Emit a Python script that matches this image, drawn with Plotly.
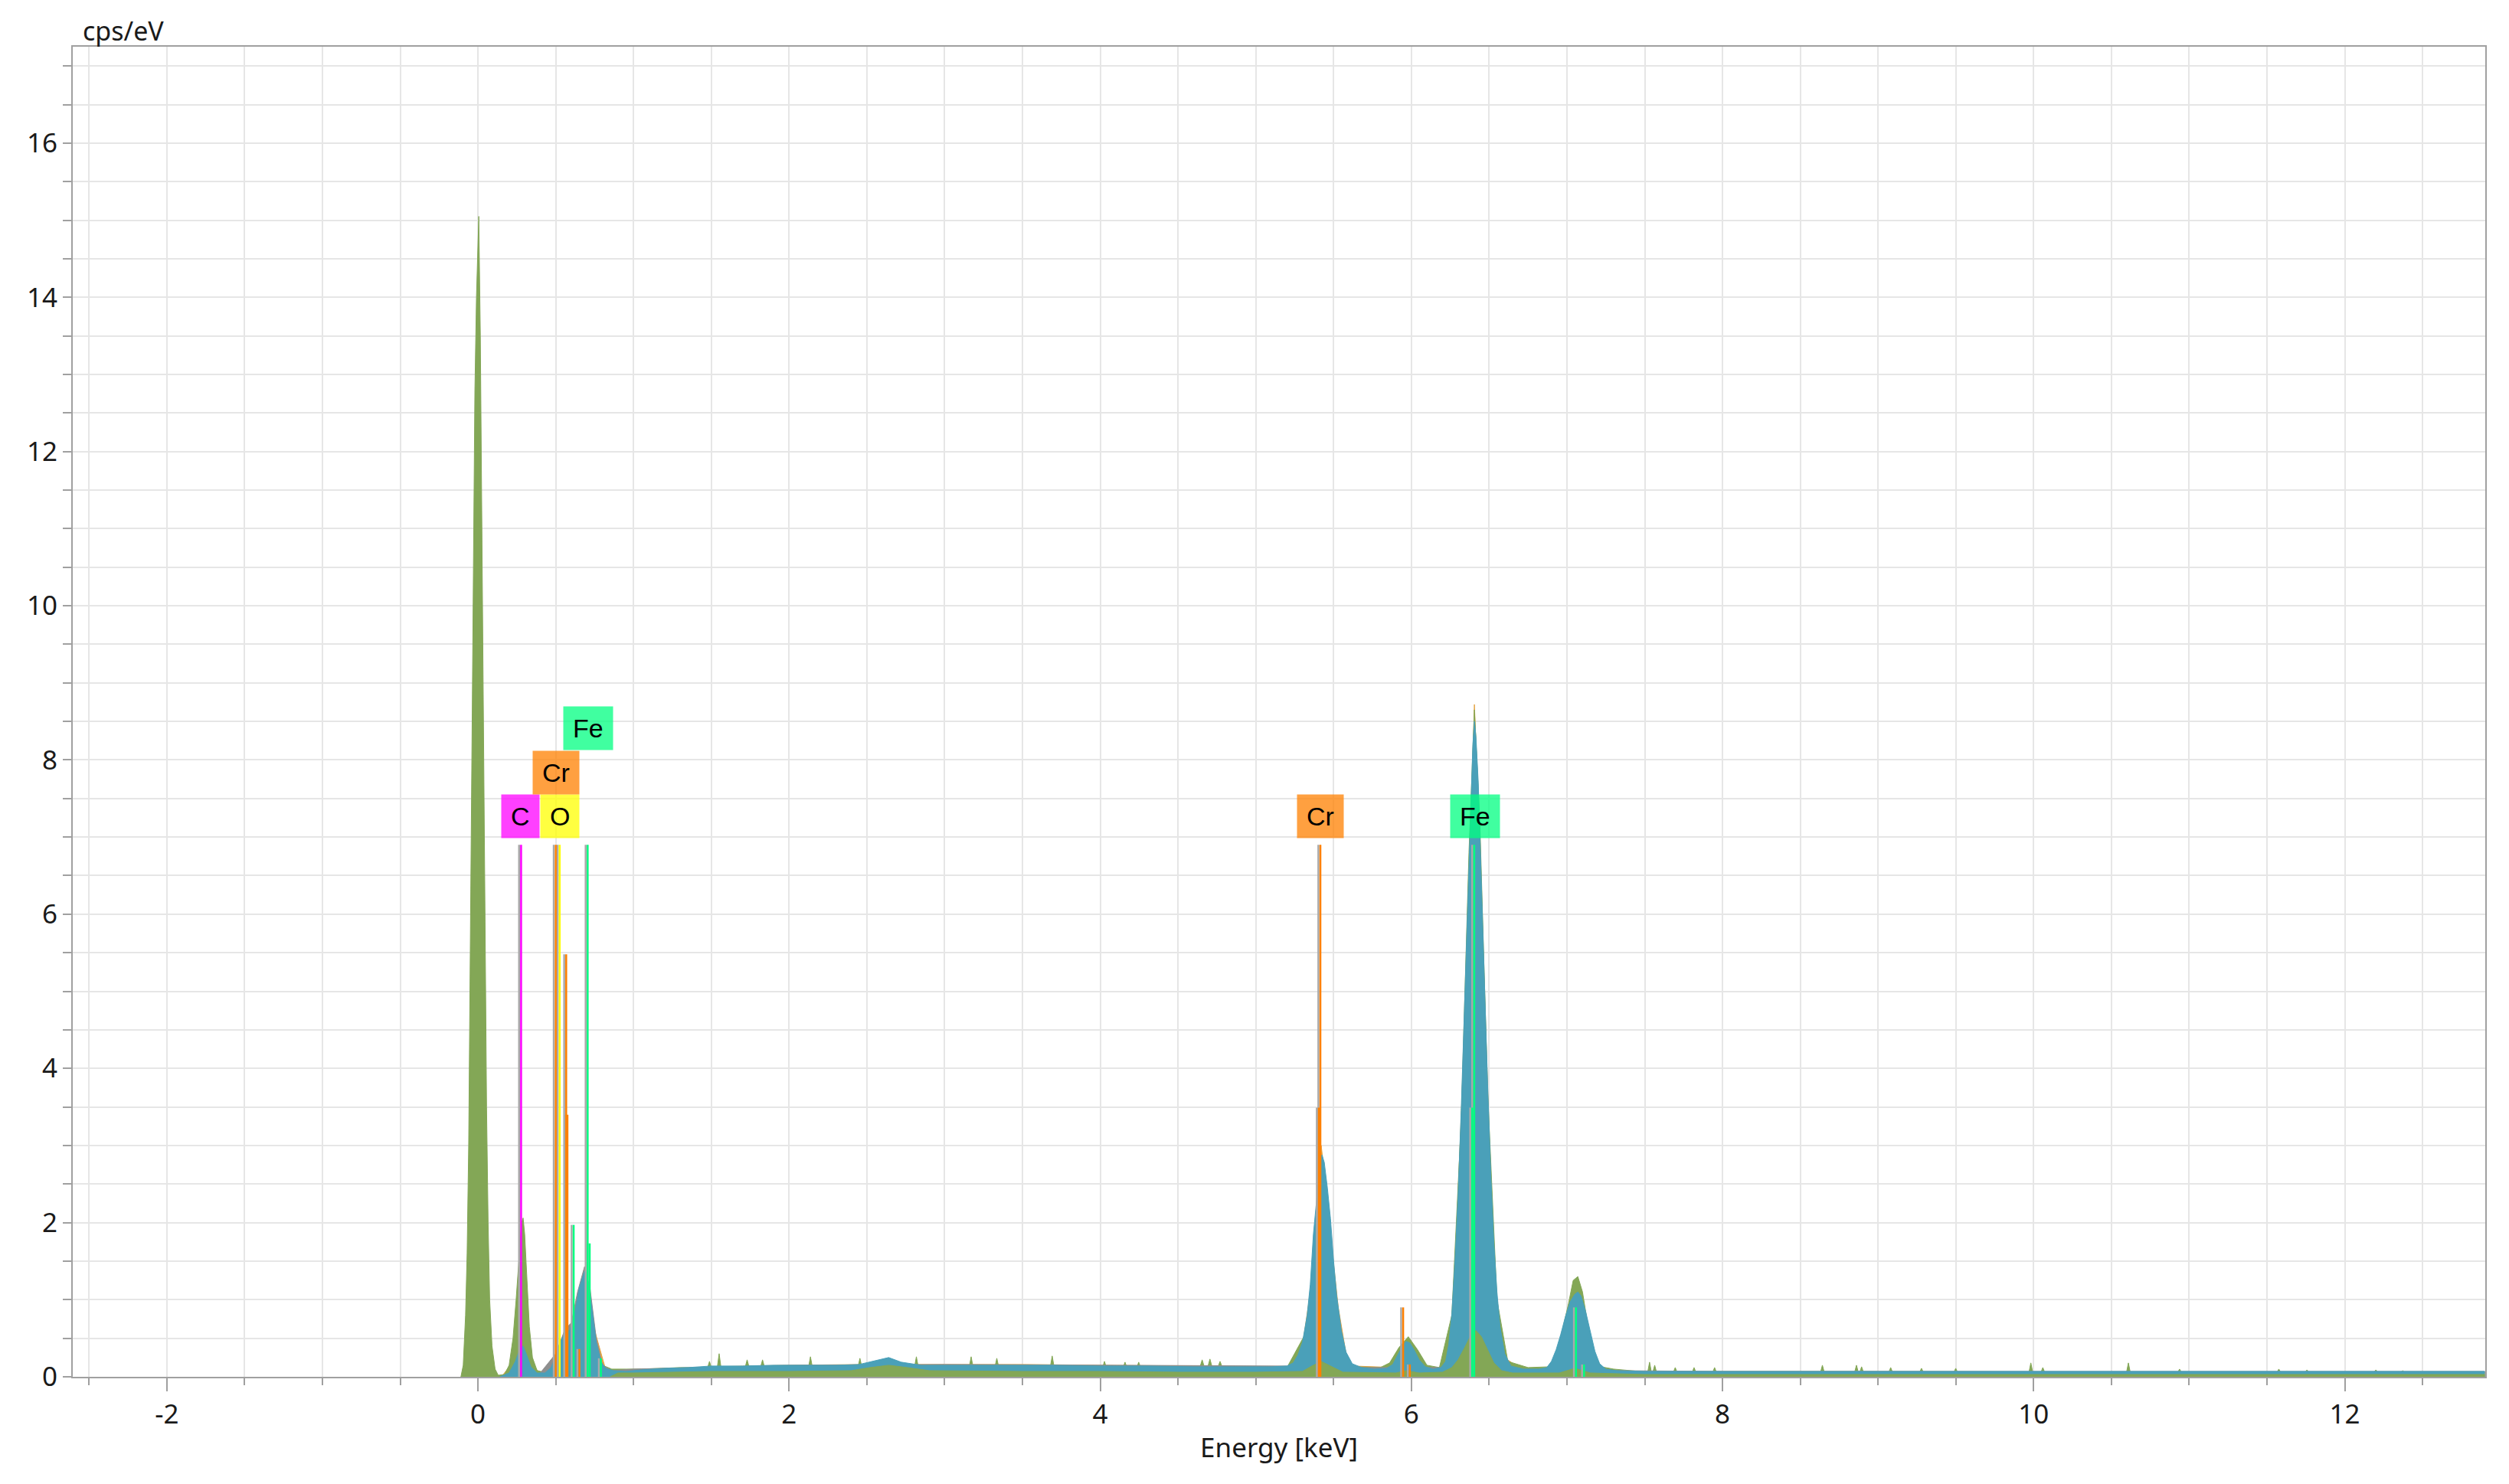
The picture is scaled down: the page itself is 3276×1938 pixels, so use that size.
import plotly.graph_objects as go

# ---------------- spectra (energy keV, counts cps/eV) ----------------
ORANGE_E = [0.15, 0.25, 0.285, 0.32, 0.40, 0.50, 0.56, 0.62, 0.685, 0.75, 0.82, 0.90,
            1.0, 1.5, 2.0, 2.5, 3.0, 3.5, 4.0, 4.5, 5.0, 5.25,
            5.30, 5.35, 5.39, 5.42, 5.45, 5.49, 5.53, 5.58, 5.62,
            5.9, 5.965, 6.03, 6.2, 6.24, 6.26, 6.28, 6.34, 6.38, 6.405, 6.43, 6.47,
            6.49, 6.51, 6.53, 6.55, 6.57, 6.6, 6.7,
            6.95, 7.0, 7.06, 7.12, 7.2, 7.5, 9.0, 11.0, 12.9]
ORANGE_C = [0.0, 0.25, 0.4, 0.2, 0.05, 0.25, 0.55, 0.6, 1.25, 0.6, 0.1, 0.07,
            0.08, 0.13, 0.15, 0.16, 0.16, 0.16, 0.15, 0.14, 0.13, 0.13,
            0.4, 1.1, 2.15, 3.0, 2.5, 1.65, 0.9, 0.3, 0.14,
            0.12, 0.47, 0.12, 0.1, 0.35, 0.75, 1.35, 4.4, 7.1, 8.72, 7.5, 4.9,
            3.6, 2.5, 1.6, 1.0, 0.55, 0.25, 0.1,
            0.1, 0.6, 1.12, 0.6, 0.08, 0.07, 0.07, 0.06, 0.06]

GREEN_BACK_E = [
    -0.11, -0.095, -0.08, -0.07, -0.06, -0.05, -0.04, -0.03, -0.02, -0.01, 0.005, 0.015, 0.025,
    0.035, 0.045, 0.055, 0.065, 0.075, 0.09, 0.11, 0.13,
    0.17, 0.20, 0.225, 0.245, 0.265, 0.28, 0.29, 0.30, 0.315, 0.33, 0.35, 0.38,
    0.45, 0.50, 0.56, 0.62, 0.68, 0.74, 0.80, 0.86, 0.95,
    1.05, 1.18, 1.30, 1.476, 1.488, 1.50, 1.538, 1.55, 1.562, 1.718, 1.73, 1.742, 1.817, 1.829, 1.841,
    2.125, 2.137, 2.149, 2.443, 2.455, 2.467, 2.64, 2.806, 2.818, 2.83, 3.158, 3.17, 3.182,
    3.323, 3.335, 3.347, 3.679, 3.691, 3.703, 4.015, 4.027, 4.039, 4.147, 4.159, 4.171,
    4.235, 4.247, 4.259, 4.64, 4.655, 4.67, 4.69, 4.705, 4.72, 4.755, 4.77, 4.785, 5.0, 5.2,
    5.33, 5.42, 5.51, 5.62, 5.80, 5.86, 5.92, 5.98, 6.04, 6.10, 6.18, 6.26, 6.32, 6.37, 6.405,
    6.44, 6.49, 6.55, 6.62, 6.75, 6.89, 6.93, 6.97, 7.01, 7.04, 7.07, 7.10, 7.14, 7.18, 7.22, 7.30, 7.40,
    7.519, 7.531, 7.543, 7.552, 7.564, 7.576, 7.684, 7.696, 7.708, 7.805, 7.817, 7.829,
    7.937, 7.949, 7.961, 8.63, 8.642, 8.654, 8.849, 8.861, 8.873, 8.882, 8.894, 8.906,
    9.069, 9.081, 9.093, 9.267, 9.279, 9.291, 9.487, 9.499, 9.511, 9.97, 9.982, 9.994,
    10.047, 10.059, 10.071, 10.597, 10.609, 10.621, 10.926, 10.938, 10.95,
    11.564, 11.576, 11.588, 11.745, 11.757, 11.769, 12.188, 12.2, 12.212, 12.36, 12.372, 12.384, 12.9]
GREEN_BACK_C = [
    0.0, 0.15, 0.8, 1.6, 3.0, 5.5, 8.5, 11.0, 12.8, 14.0, 15.05, 13.5, 11.0,
    8.5, 5.5, 3.5, 2.0, 1.0, 0.4, 0.1, 0.02,
    0.03, 0.15, 0.5, 1.0, 1.6, 2.0, 2.06, 1.85, 1.25, 0.65, 0.25, 0.08,
    0.05, 0.2, 0.3, 0.35, 0.45, 0.35, 0.15, 0.1, 0.1,
    0.1, 0.11, 0.12, 0.12, 0.2, 0.12, 0.12, 0.3, 0.12, 0.13, 0.22, 0.13, 0.13, 0.22, 0.13,
    0.13, 0.26, 0.13, 0.13, 0.24, 0.13, 0.17, 0.13, 0.26, 0.13, 0.13, 0.26, 0.13,
    0.13, 0.24, 0.13, 0.13, 0.27, 0.13, 0.12, 0.2, 0.12, 0.12, 0.19, 0.12,
    0.12, 0.19, 0.12, 0.12, 0.22, 0.12, 0.12, 0.23, 0.12, 0.12, 0.2, 0.12, 0.12, 0.12,
    0.6, 2.6, 0.6, 0.13, 0.12, 0.18, 0.38, 0.52, 0.35, 0.15, 0.12, 0.8, 3.3, 6.8, 8.65,
    7.2, 3.7, 1.0, 0.2, 0.12, 0.13, 0.3, 0.6, 0.95, 1.25, 1.3, 1.1, 0.6, 0.28, 0.13, 0.1, 0.08,
    0.06, 0.19, 0.06, 0.06, 0.15, 0.06, 0.06, 0.12, 0.06, 0.06, 0.12, 0.06,
    0.06, 0.12, 0.06, 0.06, 0.15, 0.06, 0.06, 0.15, 0.06, 0.06, 0.13, 0.06,
    0.06, 0.12, 0.06, 0.06, 0.11, 0.06, 0.06, 0.11, 0.06, 0.06, 0.18, 0.06,
    0.06, 0.12, 0.06, 0.06, 0.18, 0.06, 0.06, 0.1, 0.06,
    0.06, 0.1, 0.06, 0.06, 0.09, 0.06, 0.06, 0.09, 0.06, 0.06, 0.08, 0.06, 0.06]

GRAY_E = [0.40, 0.50, 0.56, 0.60, 0.64, 0.685, 0.72, 0.76, 0.80, 0.86, 1.0, 2.0, 3.0, 4.0, 5.0,
          5.2, 5.6, 6.2, 6.7, 7.3, 8.0, 12.9]
GRAY_C = [0.05, 0.3, 0.62, 0.7, 1.1, 1.43, 1.15, 0.5, 0.15, 0.08, 0.1, 0.15, 0.16, 0.15, 0.14,
          0.14, 0.12, 0.12, 0.1, 0.08, 0.07, 0.07]

BLUE_E = [0.14, 0.20, 0.24, 0.27, 0.29, 0.31, 0.34, 0.38, 0.43, 0.47, 0.50, 0.53, 0.56, 0.59, 0.62,
          0.65, 0.685, 0.71, 0.735, 0.76, 0.79, 0.82, 0.87, 0.95, 1.05, 1.2, 1.35, 1.5, 1.7, 1.9,
          2.1, 2.3, 2.45, 2.56, 2.64, 2.72, 2.85, 3.1, 3.4, 3.7, 4.0, 4.3, 4.6, 4.9, 5.1, 5.2,
          5.24, 5.27, 5.30, 5.33, 5.35, 5.37, 5.39, 5.41, 5.425, 5.44, 5.46, 5.48, 5.50, 5.52,
          5.55, 5.58, 5.62, 5.68, 5.76, 5.84, 5.88, 5.91, 5.94, 5.965, 5.99, 6.02, 6.05, 6.09,
          6.14, 6.19, 6.22, 6.24, 6.26, 6.28, 6.30, 6.32, 6.34, 6.36, 6.38, 6.395, 6.405, 6.415,
          6.43, 6.45, 6.47, 6.49, 6.51, 6.53, 6.55, 6.57, 6.60, 6.64, 6.72, 6.82, 6.87, 6.90,
          6.93, 6.96, 6.99, 7.02, 7.05, 7.07, 7.09, 7.12, 7.15, 7.18, 7.21, 7.25, 7.32, 7.5,
          8.0, 9.0, 10.0, 11.0, 12.0, 12.9]
BLUE_C = [0.0, 0.05, 0.2, 0.36, 0.4, 0.3, 0.13, 0.05, 0.05, 0.12, 0.28, 0.45, 0.58, 0.6, 0.8,
          1.15, 1.37, 1.22, 0.85, 0.45, 0.2, 0.11, 0.08, 0.07, 0.09, 0.11, 0.12, 0.14, 0.14, 0.15,
          0.15, 0.15, 0.16, 0.21, 0.25, 0.19, 0.15, 0.15, 0.15, 0.15, 0.14, 0.14, 0.13, 0.13, 0.13, 0.14,
          0.18, 0.28, 0.45, 0.8, 1.2, 1.85, 2.25, 2.7, 2.88, 2.78, 2.45, 2.05, 1.5, 1.05,
          0.6, 0.32, 0.17, 0.12, 0.1, 0.11, 0.16, 0.27, 0.39, 0.46, 0.44, 0.34, 0.22, 0.13,
          0.1, 0.12, 0.2, 0.42, 0.82, 1.5, 2.35, 3.45, 4.7, 6.0, 7.3, 8.2, 8.5, 8.3,
          7.7, 6.5, 5.1, 3.8, 2.65, 1.75, 1.1, 0.65, 0.3, 0.14, 0.1, 0.1, 0.12, 0.2,
          0.35, 0.55, 0.78, 0.97, 1.07, 1.1, 1.05, 0.85, 0.58, 0.33, 0.17, 0.1, 0.08, 0.07,
          0.07, 0.07, 0.07, 0.07, 0.07, 0.07]

GREEN_FRONT_E = [0.85, 0.9, 1.0, 1.5, 2.0, 2.4, 2.52, 2.64, 2.76, 2.9, 3.5, 4.0, 4.5, 5.0, 5.3,
                 5.36, 5.42, 5.48, 5.56, 5.9, 5.97, 6.05, 6.20, 6.26, 6.30, 6.34, 6.38, 6.415,
                 6.45, 6.49, 6.53, 6.58, 6.65, 6.95, 7.05, 7.15, 7.5, 12.9]
GREEN_FRONT_C = [0.0, 0.05, 0.05, 0.07, 0.07, 0.08, 0.12, 0.15, 0.12, 0.08, 0.07, 0.07, 0.06, 0.06, 0.07,
                 0.14, 0.2, 0.14, 0.06, 0.05, 0.08, 0.05, 0.06, 0.12, 0.22, 0.37, 0.53, 0.6,
                 0.52, 0.35, 0.18, 0.08, 0.05, 0.05, 0.11, 0.05, 0.03, 0.03]

# ---------------- element marker lines ----------------
C_LINE_E = [0.277]
C_LINE_H = [6.9]
O_LINE_E = [0.525]
O_LINE_H = [6.9]
CR_LINE_E = [0.500, 0.567, 0.575, 0.652, 5.405, 5.415, 5.947, 5.99]
CR_LINE_H = [6.9, 5.48, 3.4, 0.36, 3.49, 6.9, 0.9, 0.16]
FE_LINE_E = [0.615, 0.705, 0.718, 0.790, 6.391, 6.404, 7.058, 7.11]
FE_LINE_H = [1.97, 6.9, 1.73, 0.24, 3.49, 6.9, 0.9, 0.16]

LABEL_TEXT = ["C", "O", "Cr", "Fe", "Cr", "Fe"]
LABEL_E = [0.274, 0.525, 0.500, 0.708, 5.415, 6.41]
LABEL_Y = [7.27, 7.27, 7.84, 8.41, 7.27, 7.27]

X_TICKS = [-2, 0, 2, 4, 6, 8, 10, 12]
Y_TICKS = [0, 2, 4, 6, 8, 10, 12, 14, 16]

# ---------------- styles ----------------
COL_GREEN = "#83a756"
COL_BLUE = "#4aa0b9"
COL_ORANGE = "#e3a445"
COL_GRAY = "#8e8e8e"
ELEM_COLORS = {"C": (255, 0, 255), "O": (255, 255, 0), "Cr": (255, 128, 0), "Fe": (0, 255, 128)}
SHADOW_COLOR = "#a9a9a9"
SHADOW_DX = 0.013
AXIS_COL = "#a0a0a0"
GRID_COL = "#e6e6e6"
FONT = "Noto Sans"

fig = go.Figure()


def add_area(E, C, color):
    fig.add_trace(go.Scatter(x=E, y=C, mode="lines", fill="tozeroy",
                             line=dict(color=color, width=1), fillcolor=color,
                             hoverinfo="skip", showlegend=False))


add_area(ORANGE_E, ORANGE_C, COL_ORANGE)
add_area(GREEN_BACK_E, GREEN_BACK_C, COL_GREEN)
add_area(GRAY_E, GRAY_C, COL_GRAY)
add_area(BLUE_E, BLUE_C, COL_BLUE)
add_area(GREEN_FRONT_E, GREEN_FRONT_C, COL_GREEN)

ELEMENT_LINES = [("C", C_LINE_E, C_LINE_H), ("O", O_LINE_E, O_LINE_H),
                 ("Cr", CR_LINE_E, CR_LINE_H), ("Fe", FE_LINE_E, FE_LINE_H)]


def seg_xy(es, hs, dx=0.0):
    xs, ys = [], []
    for e, h in zip(es, hs):
        xs += [e - dx, e - dx, None]
        ys += [0, h, None]
    return xs, ys


for name, es, hs in ELEMENT_LINES:
    xs, ys = seg_xy(es, hs, SHADOW_DX)
    fig.add_trace(go.Scatter(x=xs, y=ys, mode="lines", line=dict(color=SHADOW_COLOR, width=2.5),
                             hoverinfo="skip", showlegend=False))
for name, es, hs in ELEMENT_LINES:
    xs, ys = seg_xy(es, hs)
    r, g, b = ELEM_COLORS[name]
    fig.add_trace(go.Scatter(x=xs, y=ys, mode="lines", line=dict(color=f"rgb({r},{g},{b})", width=2.5),
                             hoverinfo="skip", showlegend=False))

for t, e, y in zip(LABEL_TEXT, LABEL_E, LABEL_Y):
    r, g, b = ELEM_COLORS[t]
    fig.add_annotation(x=e, y=y, xref="x", yref="y", text=t, showarrow=False,
                       xanchor="center", yanchor="middle",
                       bgcolor=f"rgba({r},{g},{b},0.75)", borderpad=12, height=32,
                       font=dict(family="Liberation Sans", size=34, color="#000000"))

fig.add_annotation(x=(106 - 95) / 3150, y=1 + (61 - 40) / 1737, xref="paper", yref="paper",
                   text="cps/eV", showarrow=False, xanchor="left", yanchor="middle",
                   font=dict(family=FONT, size=34, color="#1a1a1a"))

common = dict(showline=True, linecolor=AXIS_COL, linewidth=2, mirror=True,
              showgrid=True, gridcolor=GRID_COL, gridwidth=2, zeroline=False,
              ticks="outside", tickcolor=AXIS_COL, tickwidth=2,
              tickfont=dict(family=FONT, size=35, color="#1a1a1a"))

fig.update_xaxes(range=[-2.605, 12.903], tickmode="array", tickvals=X_TICKS,
                 ticktext=[str(v) for v in X_TICKS], ticklen=17,
                 minor=dict(dtick=0.5, tick0=0, ticks="outside", ticklen=9, tickwidth=2,
                            tickcolor=AXIS_COL, showgrid=True, gridcolor=GRID_COL, gridwidth=2),
                 title=dict(text="Energy [keV]", font=dict(family=FONT, size=35, color="#1a1a1a"),
                            standoff=10),
                 **common)
fig.update_yaxes(range=[0, 17.25], tickmode="array", tickvals=Y_TICKS,
                 ticktext=[str(v) for v in Y_TICKS], ticklen=11,
                 minor=dict(dtick=0.5, tick0=0, ticks="outside", ticklen=11, tickwidth=2,
                            tickcolor=AXIS_COL, showgrid=True, gridcolor=GRID_COL, gridwidth=2),
                 **common)

fig.update_layout(width=3276, height=1938, autosize=False,
                  margin=dict(l=95, r=31, t=61, b=140, pad=0),
                  plot_bgcolor="white", paper_bgcolor="white", showlegend=False,
                  font=dict(family=FONT, size=35, color="#1a1a1a"))

fig.write_html("out.html", config={"displayModeBar": False},
               post_script="document.body.style.margin='0px';document.body.style.overflow='hidden';")
